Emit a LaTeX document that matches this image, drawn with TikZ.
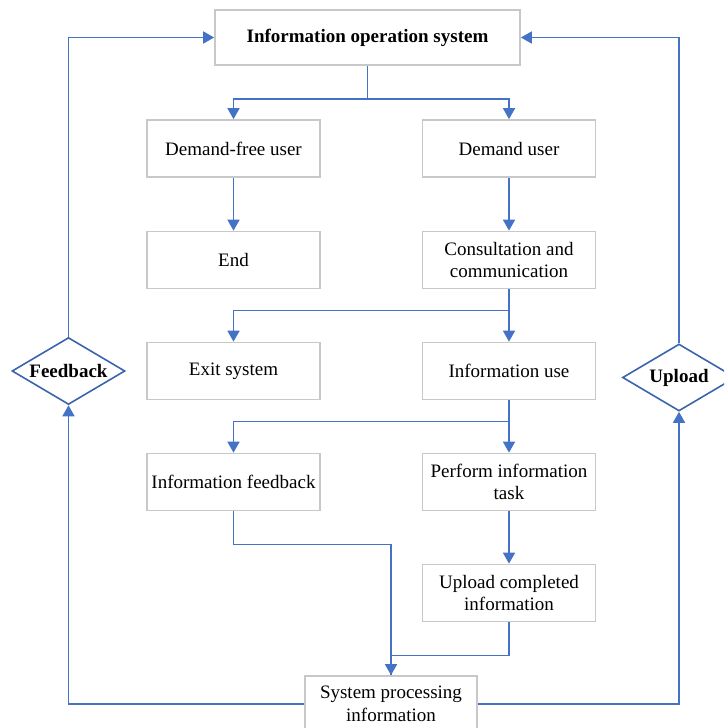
\documentclass[tikz,border=0pt]{standalone}
\usepackage{fontspec}
\setmainfont{Liberation Serif}
\usetikzlibrary{shapes.geometric,arrows.meta}
\definecolor{lnblue}{HTML}{4472C4}
\definecolor{dmblue}{HTML}{3B64AD}
\definecolor{bxgray}{HTML}{C8C8C8}

\begin{document}
\begin{tikzpicture}[x=1pt,y=-1pt,
stage/.style={draw=bxgray,line width=1.7pt,minimum width=173pt,minimum height=57pt,inner sep=2pt,align=center,font=\fontsize{19}{22.5}\selectfont},
gate/.style={diamond,draw=dmblue,line width=1.6pt,aspect=1.69,minimum width=113pt,minimum height=67pt,inner sep=0pt,font=\fontsize{19}{22.5}\selectfont\bfseries},
link/.style={draw=lnblue,line width=1.7pt,-{Triangle[width=12pt,length=11pt]}},
merge/.style={draw=lnblue,line width=1.7pt}]
\useasboundingbox (0,0) rectangle (724,728);
\clip (0,0) rectangle (724,728);

\node[stage,minimum width=305pt,minimum height=55pt,font=\fontsize{19}{22.5}\selectfont\bfseries] (top) at (367.5,37.5) {Information operation system};

\node[stage] (free) at (233.5,148.5) {Demand-free user};
\node[stage] (user) at (509,148.5) {Demand user};

\node[stage] (end) at (233.5,260) {End};
\node[stage] (consult) at (509,260) {Consultation and\\communication};

\node[stage] (exit) at (233.5,371) {Exit system};
\node[stage] (use) at (509,371) {Information use};

\node[stage] (fback) at (233.5,482) {Information feedback};
\node[stage] (task) at (509,482) {Perform information\\task};

\node[stage] (upl) at (509,593) {Upload completed\\information};

\node[stage,minimum width=172pt,minimum height=56pt] (proc) at (391,704) {System processing\\information};

\node[gate] (fbk) at (68.5,371) {Feedback};
\node[gate] (upd) at (679,377.5) {Upload};


\draw[link] (top.south) -- ++(0,33) -| (free.north);
\draw[link] (top.south) -- ++(0,33) -| (user.north);
\draw[link] (free) -- (end);
\draw[link] (user) -- (consult);
\draw[link] (consult.south) -- ++(0,21) -| (exit.north);
\draw[link] (consult) -- (use);
\draw[link] (use.south) -- ++(0,21) -| (fback.north);
\draw[link] (use) -- (task);
\draw[link] (task) -- (upl);
\draw[link] (fback.south) -- ++(0,33) -| (proc.north);
\draw[merge] (upl.south) -- ++(0,33) -| (proc.north);
\draw[link] (proc.west) -| (fbk.south);
\draw[link] (fbk.north) |- (top.west);
\draw[link] (proc.east) -| (upd.south);
\draw[link] (upd.north) |- (top.east);
\end{tikzpicture}
\end{document}
